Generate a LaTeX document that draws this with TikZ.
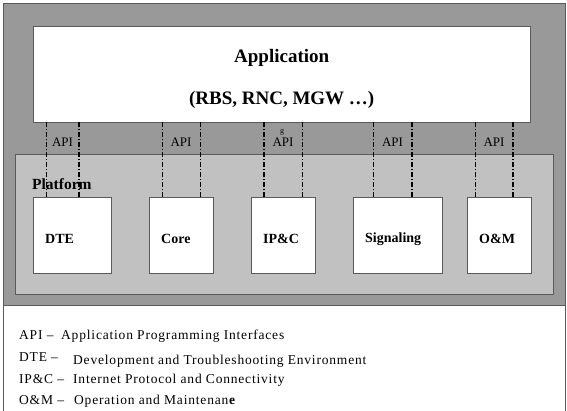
\documentclass[tikz,border=0pt]{standalone}
\usepackage{fontspec}
\setmainfont{Liberation Serif}
\newfontfamily\legendfont[LetterSpace=6]{Liberation Serif}
\usetikzlibrary{positioning,calc}
\definecolor{outergray}{RGB}{153,153,153}
\definecolor{platgray}{RGB}{193,193,193}
\definecolor{edgegray}{RGB}{90,90,90}
\tikzset{
  module/.style={draw=edgegray, fill=white, anchor=north west, minimum height=76pt, inner sep=0pt},
  boxlabel/.style={font=\fontsize{14}{16}\selectfont\bfseries, anchor=west, inner sep=0pt},
  apilabel/.style={font=\fontsize{13}{15}\selectfont, inner sep=0pt},
  apithin/.style={black, line width=0.5pt, dash pattern=on 5pt off 2pt on 1pt off 2pt},
  apimid/.style={apithin, line width=1pt},
  apithick/.style={apithin, line width=1.4pt},
  legend/.style={font=\fontsize{13.5}{15}\legendfont, anchor=base west, inner sep=0pt}
}

\begin{document}
\begin{tikzpicture}[x=1pt,y=-1pt]
      \useasboundingbox (0,0) rectangle (567,410);
      % frame
      \draw[edgegray, fill=outergray] (3,3) rectangle (565,305);
      \draw[edgegray] (3,305) -- (3,412) (565,305) -- (565,412);
      %
      \node[module, minimum width=497pt, minimum height=96pt] (app) at (33,26) {};
      \node[font=\fontsize{19}{23}\selectfont\bfseries] (apptitle) at ($(app.center)+(0,-16)$) {Application};
      \node[font=\fontsize{19}{23}\selectfont\bfseries] (appsub) at ($(app.center)+(0,26)$) {(RBS, RNC, MGW \dots)};
      %
      \node[draw=edgegray, fill=platgray, anchor=north west, minimum width=538pt, minimum height=140pt, inner sep=0pt] (platform) at (15,154) {};
      \node[font=\fontsize{15.5}{18}\selectfont\bfseries, anchor=base west, inner sep=0pt] (platlabel) at (32,189) {Platform};
      %
      \foreach \name/\x/\w/\txt in {dte/33/78/DTE, core/149/64/Core, ipc/251/64/IP\&C, sig/353/89/Signaling, om/467/64/O\&M} {
        \node[module, minimum width=\w pt] (\name) at (\x,197) {};
        \node[boxlabel] (lbl\name) at ($(\name.west)+(12,4)$) {\txt};
      }
      %
      \foreach \name/\l/\r/\ls/\rs in {dte/13/46/apimid/apithick, core/13/51/apimid/apimid, ipc/13/51/apithick/apithin, sig/20/59/apithin/apithick, om/8/46/apithin/apithick} {
        \coordinate (l\name) at ($(\name.north west)+(\l,0)$);
        \coordinate (r\name) at ($(\name.north west)+(\r,0)$);
        \draw[\ls] (l\name) -- (l\name |- app.south);
        \draw[\rs] (r\name) -- (r\name |- app.south);
        \node[apilabel] (api\name) at ($(l\name |- app.south)!.5!(r\name |- app.south)+(0,20)$) {API};
      }
      \node[font=\fontsize{8}{9}\selectfont, inner sep=0pt] (stray) at (282,132) {g};
      %
      \node[legend] (kapi) at (19,339) {API \textendash};
      \node[legend] (dapi) at (61,339) {Application Programming Interfaces};
      \node[legend] (kdte) at (19,361) {DTE \textendash};
      \node[legend] (ddte) at (73,364) {Development and Troubleshooting Environment};
      \node[legend] (kipc) at (19,383) {IP\&C \textendash};
      \node[legend] (dipc) at (73,383) {Internet Protocol and Connectivity};
      \node[legend] (kom) at (19,404) {O\&M \textendash};
      \node[legend] (dom) at (74,404) {Operation and Maintenan\textbf{e}};
\end{tikzpicture}
\end{document}
